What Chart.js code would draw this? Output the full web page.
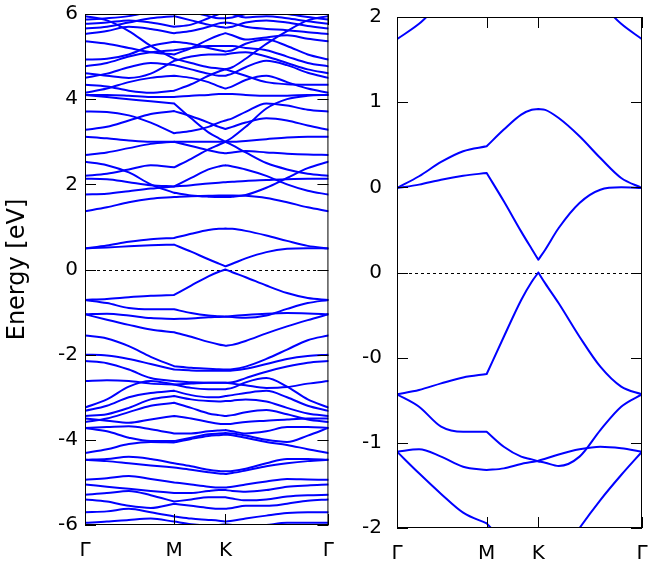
<!DOCTYPE html>
<html>
<head>
<meta charset="utf-8">
<script src="https://cdn.jsdelivr.net/npm/chart.js@4.4.1/dist/chart.umd.min.js"></script>
<style>
  body { margin: 0; background: #fff; }
  canvas { position: absolute; top: 0; }
  #bandsFull { left: 0; }
  #bandsZoom { left: 340px; }
</style>
</head>
<body>
<canvas id="bandsFull" width="340" height="573"></canvas>
<canvas id="bandsZoom" width="315" height="573"></canvas>
<script>
// k-path position (fraction of Γ-M-K-Γ length) of every sample
const kPos = [0, 0.09, 0.18, 0.27, 0.366, 0.436, 0.507, 0.55, 0.577, 0.605, 0.66, 0.745, 0.83, 0.915, 1];
const kCorners = [4, 8]; // M and K: the path turns, bands may kink
const kTickPos = [0, 0.366, 0.577, 1];
const kTickLabels = ['Γ', 'M', 'K', 'Γ'];
const fullTicks = [-6, -4, -2, 0, 2, 4, 6];
const zoomTicks = [-1.5, -1, -0.5, 0, 0.5, 1, 1.5];
const zoomTickLabels = ['-2', '-1', '-0', '0', '0', '1', '2'];

// bands near the gap (eV)
const c1 = [0.496, 0.565, 0.649, 0.712, 0.741, 0.839, 0.927, 0.955, 0.960, 0.955, 0.907, 0.80, 0.672, 0.555, 0.496];
const c2 = [0.496, 0.516, 0.545, 0.568, 0.584, 0.418, 0.240, 0.138, 0.075, 0.134, 0.261, 0.408, 0.486, 0.50, 0.496];
const v1 = [-0.715, -0.690, -0.651, -0.616, -0.596, -0.377, -0.161, -0.054, 0.0, -0.064, -0.181, -0.377, -0.553, -0.67, -0.715];
const v2 = [-0.715, -0.788, -0.905, -0.935, -0.935, -1.023, -1.081, -1.097, -1.109, -1.117, -1.136, -1.081, -0.925, -0.788, -0.715];
const v3 = [-1.052, -1.038, -1.081, -1.140, -1.160, -1.150, -1.124, -1.113, -1.105, -1.093, -1.068, -1.038, -1.023, -1.032, -1.052];
const v4 = [-1.052, -1.179, -1.300, -1.410, -1.473, -1.58, -1.70, -1.76, -1.79, -1.77, -1.68, -1.50, -1.336, -1.189, -1.052];

// conduction side
const u1 = [1.37, 1.46, 1.58, 1.66, 1.70, 1.72, 1.73, 1.74, 1.74, 1.74, 1.73, 1.68, 1.58, 1.46, 1.37];
const u2 = [1.76, 1.78, 1.84, 1.90, 1.95, 2.15, 2.35, 2.42, 2.45, 2.42, 2.35, 2.20, 2.00, 1.85, 1.76];
const u3 = [2.13, 2.12, 2.05, 1.98, 1.95, 1.98, 2.02, 2.04, 2.05, 2.06, 2.08, 2.10, 2.12, 2.13, 2.13];
const u4 = [2.53, 2.45, 2.28, 2.00, 1.80, 1.74, 1.71, 1.70, 1.70, 1.71, 1.75, 1.92, 2.15, 2.38, 2.53];
const u5 = [2.20, 2.25, 2.35, 2.45, 2.40, 2.60, 2.82, 2.93, 3.00, 3.10, 3.35, 3.78, 4.00, 4.08, 4.10];
const u6 = [4.10, 4.05, 4.00, 3.95, 3.90, 3.55, 3.22, 3.08, 3.00, 2.92, 2.75, 2.50, 2.35, 2.25, 2.20];
const u7 = [3.12, 3.08, 3.03, 3.00, 3.00, 3.00, 3.00, 3.00, 3.00, 3.00, 3.02, 3.06, 3.10, 3.12, 3.12];
const u8 = [2.69, 2.75, 2.85, 2.95, 3.00, 2.90, 2.80, 2.75, 2.73, 2.75, 2.78, 2.75, 2.72, 2.70, 2.69];
const u9 = [3.28, 3.35, 3.50, 3.65, 3.72, 3.60, 3.45, 3.35, 3.30, 3.35, 3.45, 3.55, 3.50, 3.38, 3.28];
const u10 = [3.71, 3.70, 3.62, 3.45, 3.20, 3.25, 3.35, 3.45, 3.50, 3.55, 3.70, 3.90, 3.85, 3.75, 3.71];
const u11 = [4.10, 4.10, 4.08, 4.05, 4.05, 4.08, 4.10, 4.12, 4.12, 4.12, 4.10, 4.08, 4.08, 4.10, 4.10];
const u12 = [4.15, 4.25, 4.40, 4.50, 4.55, 4.50, 4.40, 4.30, 4.25, 4.30, 4.45, 4.55, 4.40, 4.25, 4.15];
const u13 = [4.34, 4.30, 4.20, 4.15, 4.20, 4.35, 4.55, 4.65, 4.70, 4.65, 4.55, 4.40, 4.35, 4.34, 4.34];
const u14 = [4.50, 4.60, 4.75, 4.85, 4.80, 4.70, 4.60, 4.55, 4.55, 4.60, 4.75, 4.90, 4.80, 4.62, 4.50];
const u15 = [4.61, 4.55, 4.50, 4.60, 4.90, 5.00, 5.05, 5.05, 5.05, 5.08, 5.10, 5.00, 4.85, 4.70, 4.61];
const u16 = [4.77, 4.85, 5.00, 5.10, 5.15, 5.20, 5.25, 5.25, 5.25, 5.25, 5.20, 5.15, 5.00, 4.85, 4.77];
const u17 = [4.93, 4.95, 5.05, 5.25, 5.35, 5.30, 5.20, 5.15, 5.12, 5.15, 5.30, 5.40, 5.25, 5.05, 4.93];
const u18 = [5.36, 5.30, 5.20, 5.10, 5.05, 5.20, 5.40, 5.50, 5.55, 5.50, 5.40, 5.45, 5.50, 5.42, 5.36];
const u19 = [5.53, 5.60, 5.70, 5.65, 5.55, 5.60, 5.70, 5.78, 5.80, 5.78, 5.70, 5.65, 5.62, 5.57, 5.53];
const u20 = [5.66, 5.70, 5.80, 5.90, 5.95, 5.85, 5.75, 5.70, 5.68, 5.70, 5.80, 5.85, 5.80, 5.72, 5.66];
const u21 = [5.77, 5.80, 5.85, 5.80, 5.70, 5.75, 5.90, 6.00, 6.05, 6.00, 5.92, 5.95, 5.90, 5.83, 5.77];
const u22 = [5.87, 5.90, 5.95, 6.05, 6.10, 6.05, 5.95, 5.90, 5.90, 5.92, 6.00, 6.05, 6.00, 5.93, 5.87];
const u23 = [5.95, 5.85, 5.60, 5.25, 4.95, 4.85, 4.75, 4.72, 4.70, 4.75, 4.95, 5.30, 5.60, 5.85, 5.95];

// valence side
const l1 = [-1.55, -1.62, -1.80, -2.05, -2.27, -2.31, -2.33, -2.34, -2.35, -2.34, -2.28, -2.10, -1.88, -1.66, -1.55];
const l2 = [-2.00, -2.02, -2.10, -2.22, -2.35, -2.37, -2.38, -2.38, -2.38, -2.37, -2.33, -2.22, -2.10, -2.03, -2.00];
const l3 = [-2.15, -2.20, -2.35, -2.55, -2.62, -2.65, -2.66, -2.66, -2.66, -2.65, -2.55, -2.40, -2.28, -2.19, -2.15];
const l4 = [-3.24, -3.05, -2.75, -2.62, -2.70, -2.78, -2.81, -2.81, -2.81, -2.78, -2.65, -2.55, -2.75, -3.05, -3.24];
const l5 = [-3.32, -3.20, -3.00, -2.90, -2.85, -2.95, -3.00, -3.00, -2.97, -2.95, -2.90, -2.85, -3.00, -3.20, -3.32];
const l6 = [-3.44, -3.40, -3.25, -3.05, -2.97, -3.05, -3.09, -3.10, -3.09, -3.08, -3.05, -3.10, -3.25, -3.38, -3.44];
const l7 = [-3.58, -3.50, -3.35, -3.20, -3.13, -3.25, -3.38, -3.42, -3.44, -3.42, -3.35, -3.30, -3.40, -3.52, -3.58];
const l8 = [-3.50, -3.55, -3.60, -3.52, -3.44, -3.50, -3.58, -3.62, -3.63, -3.62, -3.58, -3.55, -3.52, -3.50, -3.50];
const l9 = [-3.72, -3.70, -3.68, -3.75, -3.85, -3.85, -3.80, -3.78, -3.77, -3.80, -3.85, -3.80, -3.70, -3.70, -3.72];
const l10 = [-3.72, -3.80, -3.95, -4.03, -4.03, -3.95, -3.87, -3.85, -3.84, -3.85, -3.90, -4.00, -4.05, -3.90, -3.72];
const l11 = [-4.31, -4.22, -4.10, -4.05, -4.06, -3.98, -3.91, -3.89, -3.88, -3.89, -3.95, -4.05, -4.12, -4.22, -4.31];
const l12 = [-4.47, -4.45, -4.40, -4.45, -4.55, -4.62, -4.70, -4.73, -4.74, -4.73, -4.68, -4.55, -4.45, -4.45, -4.47];
const l13 = [-4.47, -4.50, -4.55, -4.60, -4.65, -4.70, -4.76, -4.79, -4.80, -4.78, -4.72, -4.62, -4.55, -4.50, -4.47];
const l14 = [-4.94, -4.90, -4.85, -4.92, -5.00, -5.05, -5.10, -5.12, -5.12, -5.10, -5.05, -4.98, -4.92, -4.93, -4.94];
const l15 = [-5.05, -5.10, -5.15, -5.20, -5.25, -5.25, -5.20, -5.18, -5.18, -5.20, -5.22, -5.18, -5.10, -5.07, -5.05];
const l16 = [-5.29, -5.25, -5.20, -5.30, -5.45, -5.40, -5.35, -5.35, -5.35, -5.38, -5.42, -5.40, -5.33, -5.30, -5.29];
const l17 = [-5.40, -5.45, -5.55, -5.60, -5.50, -5.55, -5.60, -5.62, -5.62, -5.60, -5.55, -5.55, -5.50, -5.43, -5.40];
const l18 = [-5.70, -5.68, -5.62, -5.70, -5.80, -5.85, -5.88, -5.90, -5.92, -5.90, -5.85, -5.78, -5.72, -5.70, -5.70];
const l19 = [-5.95, -5.92, -5.88, -5.85, -5.92, -5.98, -6.00, -6.00, -5.98, -6.00, -6.05, -6.00, -5.95, -5.95, -5.95];
const l20 = [-2.62, -2.60, -2.62, -2.68, -2.70, -2.68, -2.66, -2.66, -2.66, -2.68, -2.72, -2.78, -2.76, -2.68, -2.62];

const bands = [c1, c2, v1, v2, v3, v4,
  u1, u2, u3, u4, u5, u6, u7, u8, u9, u10, u11, u12, u13, u14, u15, u16, u17, u18, u19, u20, u21, u22, u23,
  l1, l2, l3, l4, l5, l6, l7, l8, l9, l10, l11, l12, l13, l14, l15, l16, l17, l18, l19, l20];

const tickFont = { family: 'DejaVu Sans', size: 20 };
const titleFont = { family: 'DejaVu Sans', size: 24 };

// one line per band, broken (not smoothed) at the M and K corners
function bandPoints(band) {
  const pts = [];
  band.forEach((e, i) => {
    pts.push({ x: kPos[i], y: e });
    if (kCorners.includes(i)) {
      pts.push({ x: kPos[i], y: null });
      pts.push({ x: kPos[i], y: e });
    }
  });
  return pts;
}

// dashed zero line, border and inward ticks like gnuplot
const framePlugin = {
  id: 'frame',
  beforeDatasetsDraw(chart) {
    const { ctx, chartArea: a, scales: { y } } = chart;
    const y0 = Math.round(y.getPixelForValue(0)) + 0.5;
    ctx.save();
    ctx.strokeStyle = '#000';
    ctx.lineWidth = 1;
    ctx.setLineDash([3, 3]);
    ctx.beginPath();
    ctx.moveTo(a.left, y0);
    ctx.lineTo(a.right, y0);
    ctx.stroke();
    ctx.restore();
  },
  afterDatasetsDraw(chart) {
    const { ctx, chartArea: a, scales: { x, y } } = chart;
    const len = 11;
    ctx.save();
    ctx.strokeStyle = '#000';
    ctx.lineWidth = 1;
    ctx.beginPath();
    y.ticks.forEach(t => {
      const py = Math.round(y.getPixelForValue(t.value)) + 0.5;
      ctx.moveTo(a.left, py); ctx.lineTo(a.left + len, py);
      ctx.moveTo(a.right, py); ctx.lineTo(a.right - len, py);
    });
    x.ticks.forEach(t => {
      const px = Math.round(x.getPixelForValue(t.value)) + 0.5;
      ctx.moveTo(px, a.top); ctx.lineTo(px, a.top + len);
      ctx.moveTo(px, a.bottom); ctx.lineTo(px, a.bottom - len);
    });
    ctx.stroke();
    ctx.strokeRect(a.left + 0.5, a.top + 0.5, a.right - a.left - 1, a.bottom - a.top - 1);
    ctx.restore();
  }
};

function makeChart(id, opts) {
  return new Chart(document.getElementById(id), {
    type: 'scatter',
    data: {
      datasets: bands.map(b => ({
        data: bandPoints(b),
        showLine: true,
        spanGaps: false,
        borderColor: '#0000ff',
        borderWidth: 2,
        borderCapStyle: 'round',
        borderJoinStyle: 'round',
        pointRadius: 0,
        cubicInterpolationMode: 'monotone',
        clip: 0
      }))
    },
    options: {
      responsive: false,
      animation: false,
      events: [],
      layout: { padding: opts.padding },
      plugins: { legend: { display: false }, tooltip: { enabled: false } },
      scales: {
        x: {
          type: 'linear', min: 0, max: 1,
          grid: { display: false, tickLength: 8 }, border: { display: false },
          afterBuildTicks: s => { s.ticks = kTickPos.map(v => ({ value: v })); },
          afterFit: s => { s.height = 40; },
          ticks: {
            autoSkip: false, maxRotation: 0, padding: 6, color: '#000', font: tickFont,
            callback: (v, i) => kTickLabels[i]
          }
        },
        y: {
          min: opts.min, max: opts.max,
          grid: { display: false, tickLength: opts.labelGap }, border: { display: false },
          afterBuildTicks: s => { s.ticks = opts.ticks.map(v => ({ value: v })); },
          afterFit: s => { s.width = opts.axisWidth; },
          title: opts.title,
          ticks: {
            padding: 0, color: '#000', font: tickFont,
            callback: opts.label
          }
        }
      }
    },
    plugins: [framePlugin]
  });
}

makeChart('bandsFull', {
  padding: { left: 0, right: 10, top: 14, bottom: 8 },
  min: -6, max: 6, ticks: fullTicks, axisWidth: 85, labelGap: 7,
  title: { display: true, text: 'Energy [eV]', color: '#000', font: titleFont, padding: { top: 3, bottom: 0 } },
  label: v => String(v)
});

makeChart('bandsZoom', {
  padding: { left: 0, right: 13, top: 17, bottom: 5 },
  min: -1.5, max: 1.5, ticks: zoomTicks, axisWidth: 57, labelGap: 15,
  title: { display: false },
  label: (v, i) => zoomTickLabels[i]
});
</script>
</body>
</html>
